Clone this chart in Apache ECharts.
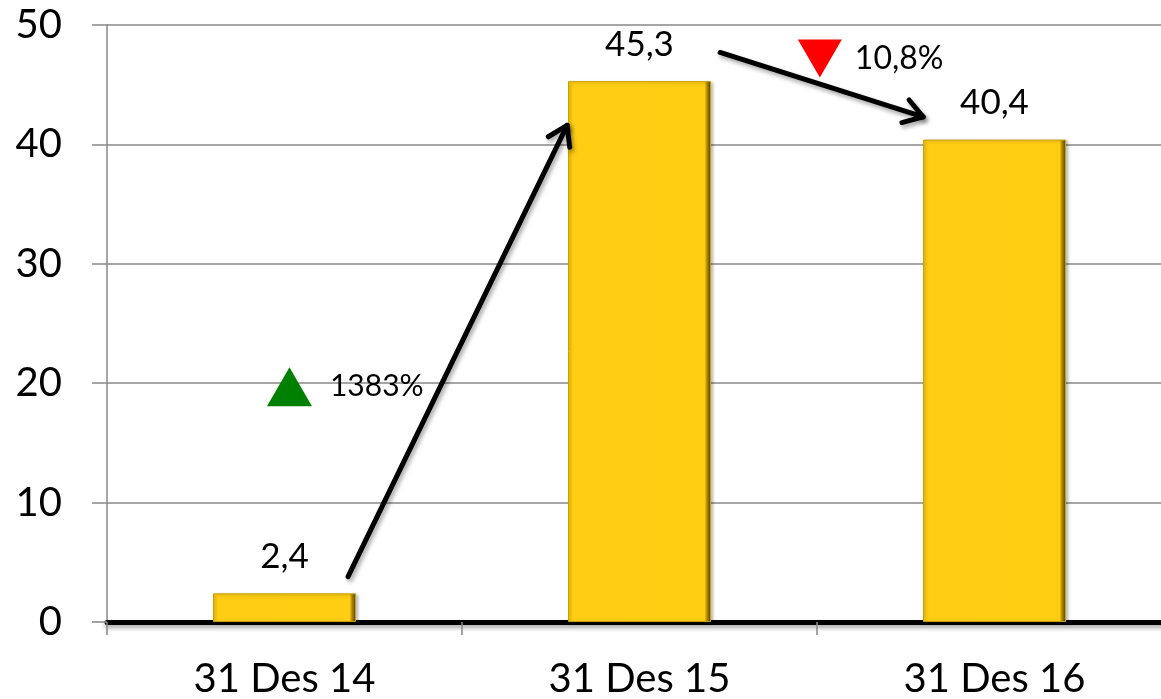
<!DOCTYPE html>
<html>
<head>
<meta charset="utf-8">
<script src="https://cdn.jsdelivr.net/npm/echarts@6/dist/echarts.min.js"></script>
<style>
html,body{margin:0;padding:0;background:#fff;overflow:hidden;}
#chart{width:1180px;height:699px;}
</style>
</head>
<body>
<div id="chart"></div>
<script>
// ---- data ----
const categories = ['31 Des 14', '31 Des 15', '31 Des 16'];
const values = [2.4, 45.3, 40.4];
const valueLabels = ['2,4', '45,3', '40,4'];
const yTicks = [0, 10, 20, 30, 40, 50];
// change annotations: [x (category units), y (value units), label]
const changeUp = [[0.014, 19.7, '1383%']];
const changeDown = [[1.508, 47.2, '10,8%']];
// arrows: [x0, y0, x1, y1] in category/value units
const arrows = [
  [0.179, 3.8, 0.796, 41.6],
  [1.227, 47.7, 1.799, 42.3]
];

const FONT = 'Lato';
const chart = echarts.init(document.getElementById('chart'), null, {renderer: 'canvas'});

const barGradient = new echarts.graphic.LinearGradient(0, 0, 1, 0, [
  {offset: 0, color: '#E8B800'},
  {offset: 0.02, color: '#FFCE14'},
  {offset: 0.955, color: '#FFCD12'},
  {offset: 0.97, color: '#B89200'},
  {offset: 1, color: '#4A3A00'}
]);

const option = {
  backgroundColor: '#ffffff',
  animation: false,
  grid: {left: 107, top: 25, width: 1065, height: 597, containLabel: false},
  xAxis: [{
    type: 'category',
    data: categories,
    boundaryGap: true,
    axisLine: {show: true, onZero: false, lineStyle: {color: '#000', width: 5, shadowColor: 'rgba(0,0,0,0.35)', shadowBlur: 4, shadowOffsetY: 3}},
    axisTick: {show: true, length: 13, lineStyle: {color: '#888', width: 1.5}},
    axisLabel: {color: '#000', fontSize: 40, fontFamily: FONT, margin: 37},
    splitLine: {show: false}
  }, {
    type: 'value',
    min: -0.5,
    max: 2.5,
    show: false,
    axisLine: {show: false, onZero: false},
    axisTick: {show: false},
    axisLabel: {show: false},
    splitLine: {show: false}
  }],
  yAxis: {
    type: 'value',
    min: yTicks[0],
    max: yTicks[yTicks.length - 1],
    interval: 10,
    axisLine: {show: true, onZero: false, lineStyle: {color: '#888', width: 1.5}},
    axisTick: {show: true, length: 15, lineStyle: {color: '#888', width: 1.5}},
    axisLabel: {color: '#000', fontSize: 40, fontFamily: FONT, margin: 45},
    splitLine: {show: true, lineStyle: {color: '#888', width: 1.5}}
  },
  series: [{
    type: 'bar',
    data: values,
    barWidth: 143,
    itemStyle: {
      color: barGradient,
      borderColor: '#C9A200',
      borderWidth: 1,
      shadowColor: 'rgba(0,0,0,0.25)',
      shadowBlur: 3,
      shadowOffsetX: 2,
      shadowOffsetY: 1
    },
    label: {
      show: true,
      position: 'top',
      distance: 19,
      color: '#000',
      fontSize: 35,
      fontFamily: FONT,
      formatter: p => valueLabels[p.dataIndex]
    },
    z: 3
  }, {
    type: 'custom',
    xAxisIndex: 1,
    data: arrows,
    z: 5,
    renderItem: function (params, api) {
      const p0 = api.coord([api.value(0), api.value(1)]);
      const p1 = api.coord([api.value(2), api.value(3)]);
      const ang = Math.atan2(p1[1] - p0[1], p1[0] - p0[0]);
      const L = 22, a = Math.PI / 5.5;
      const h1 = [p1[0] - L * Math.cos(ang - a), p1[1] - L * Math.sin(ang - a)];
      const h2 = [p1[0] - L * Math.cos(ang + a), p1[1] - L * Math.sin(ang + a)];
      const st = {stroke: '#000', lineWidth: 5, lineCap: 'round', lineJoin: 'round', fill: null,
        shadowColor: 'rgba(0,0,0,0.35)', shadowBlur: 4, shadowOffsetX: 2, shadowOffsetY: 3};
      return {
        type: 'group',
        children: [
          {type: 'line', shape: {x1: p0[0], y1: p0[1], x2: p1[0], y2: p1[1]}, style: st},
          {type: 'polyline', shape: {points: [h1, p1, h2]}, style: st}
        ]
      };
    }
  }, {
    type: 'scatter',
    xAxisIndex: 1,
    data: changeUp.map(d => ({value: [d[0], d[1]], name: d[2]})),
    symbol: 'triangle',
    symbolSize: [45, 39],
    itemStyle: {color: '#008000', opacity: 1},
    label: {show: true, position: 'right', distance: 18, color: '#000', opacity: 1, fontSize: 30, fontFamily: FONT, formatter: p => p.name},
    z: 6
  }, {
    type: 'scatter',
    xAxisIndex: 1,
    data: changeDown.map(d => ({value: [d[0], d[1]], name: d[2]})),
    symbol: 'triangle',
    symbolRotate: 180,
    symbolSize: [44, 38],
    itemStyle: {color: '#FF0000', opacity: 1},
    label: {show: true, position: 'right', distance: 13, color: '#000', opacity: 1, fontSize: 32, fontFamily: FONT, formatter: p => p.name},
    z: 6
  }]
};
chart.setOption(option);
</script>
</body>
</html>
